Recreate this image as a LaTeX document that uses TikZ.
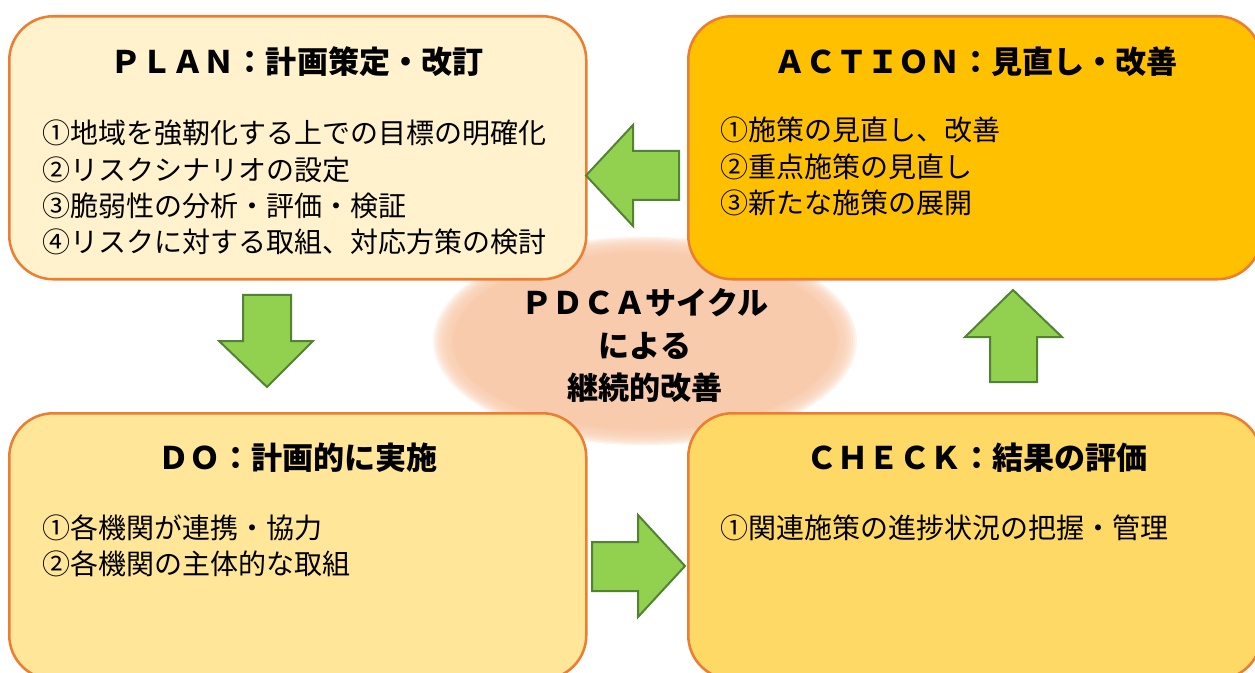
\documentclass[tikz,border=0pt]{standalone}
\usepackage{fontspec}
\setmainfont{Noto Sans CJK JP}
\definecolor{planc}{HTML}{FFF2CC}
\definecolor{actc}{HTML}{FFC000}
\definecolor{doc}{HTML}{FFE699}
\definecolor{chkc}{HTML}{FFD966}
\definecolor{edgec}{HTML}{ED7D31}
\definecolor{arrf}{HTML}{92D050}
\definecolor{arrd}{HTML}{548235}
\definecolor{peach}{HTML}{F8CBAD}
\tikzset{
  box/.style={draw=edgec, line width=1.9pt, rounded corners=33pt, anchor=north west, inner sep=0pt},
  ttl/.style={font=\fontsize{23.3}{28}\selectfont\bfseries, inner sep=0pt, anchor=center},
  bodytxt/.style={font=\fontsize{21}{27}\selectfont, inner sep=0pt, anchor=west, text height=0.88em, text depth=0.12em},
  ctr/.style={font=\fontsize{23.3}{28}\selectfont\bfseries, inner sep=0pt, anchor=center},
  blockarrow/.style={fill=arrf, draw=arrd, line width=1.5pt, line join=miter}
}
\begin{document}
\begin{tikzpicture}[x=0.75pt,y=-0.75pt]
\useasboundingbox (0,0) rectangle (1255,673);
\clip (0,0) rectangle (1255,673);
% central ellipse with soft edge
\foreach \i in {0,...,9}{
  \fill[peach, opacity=0.22] (645,341) ellipse [x radius={194+2*\i}, y radius={91+1.5*\i}];
}
\fill[peach] (645,341) ellipse [x radius=192, y radius=89];
% boxes
\node[box, fill=planc, minimum width=432.75pt, minimum height=197.25pt] (plan) at (8,15) {};
\node[box, fill=actc, minimum width=429.75pt, minimum height=197.25pt] (action) at (687,15) {};
\node[box, fill=doc, minimum width=432.75pt, minimum height=199.5pt] (do) at (8,412) {};
\node[box, fill=chkc, minimum width=429.75pt, minimum height=199.5pt] (check) at (687,412) {};
% titles
\node[ttl] (plant) at (297,62) {ＰＬＡＮ：計画策定・改訂};
\node[ttl] (actt) at (976,62) {ＡＣＴＩＯＮ：見直し・改善};
\node[ttl] (dot) at (298,458) {ＤＯ：計画的に実施};
\node[ttl] (chkt) at (977,458) {ＣＨＥＣＫ：結果の評価};
% body texts
\node[bodytxt] (p1) at (42,138) {①地域を強靭化する上での目標の明確化};
\node[bodytxt] (p2) at (42,175) {②リスクシナリオの設定};
\node[bodytxt] (p3) at (42,211) {③脆弱性の分析・評価・検証};
\node[bodytxt] (p4) at (42,247) {④リスクに対する取組、対応方策の検討};
\node[bodytxt] (a1) at (720,135) {①施策の見直し、改善};
\node[bodytxt] (a2) at (720,172) {②重点施策の見直し};
\node[bodytxt] (a3) at (720,208) {③新たな施策の展開};
\node[bodytxt] (d1) at (42,533) {①各機関が連携・協力};
\node[bodytxt] (d2) at (42,569) {②各機関の主体的な取組};
\node[bodytxt] (c1) at (720,533) {①関連施策の進捗状況の把握・管理};
% centre text
\node[ctr] (c1l) at (645,303) {ＰＤＣＡサイクル};
\node[ctr] (c2l) at (645,346) {による};
\node[ctr] (c3l) at (645,388) {継続的改善};
% block arrows
\draw[blockarrow] (586,175.5) -- (633,125) -- (633,151) -- (679,151) -- (679,200) -- (633,200) -- (633,226) -- cycle;
\draw[blockarrow] (267,387) -- (219,341) -- (243,341) -- (243,295) -- (291,295) -- (291,341) -- (313,341) -- cycle;
\draw[blockarrow] (685,566) -- (638,515) -- (638,542) -- (592,542) -- (592,591) -- (638,591) -- (638,617) -- cycle;
\draw[blockarrow] (1013,290) -- (1062,337) -- (1037,337) -- (1037,382) -- (990,382) -- (990,337) -- (965,337) -- cycle;
\end{tikzpicture}
\end{document}
